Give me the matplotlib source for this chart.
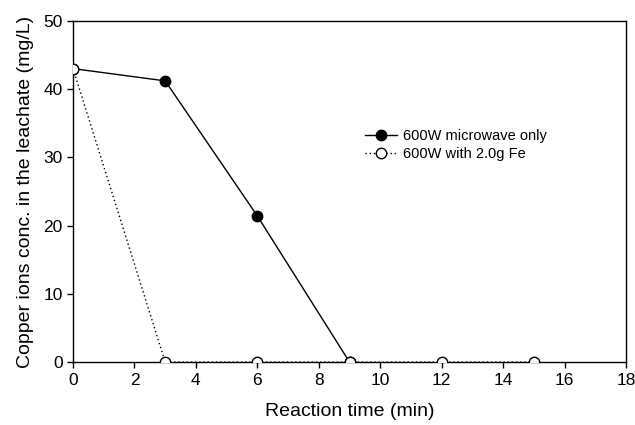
import matplotlib
matplotlib.use("Agg")
import matplotlib.pyplot as plt

# ── Data ──────────────────────────────────────────────────────────────────────
t_mw = [0, 3, 6, 9]
cu_mw = [43, 41.2, 21.4, 0]

t_fe = [0, 3, 6, 9, 12, 15]
cu_fe = [43, 0, 0, 0, 0, 0]

x_ticks = [0, 2, 4, 6, 8, 10, 12, 14, 16, 18]
y_ticks = [0, 10, 20, 30, 40, 50]

plt.rcParams["font.family"] = ["Liberation Sans", "DejaVu Sans"]

fig = plt.figure(figsize=(6.35, 4.25), dpi=100)
ax = fig.add_axes([0.115, 0.148, 0.871, 0.803])

ax.plot(t_mw, cu_mw, color="black", lw=1.0, marker="o", ms=7.5,
        mfc="black", mec="black", label="600W microwave only", zorder=2)
ax.plot(t_fe, cu_fe, color="black", lw=1.0, ls=(0, (1, 2)), marker="o", ms=7.5,
        mfc="white", mec="black", mew=1.0, label="600W with 2.0g Fe", zorder=3)

ax.set_xlim(0, 18)
ax.set_ylim(0, 50)
ax.set_xticks(x_ticks)
ax.set_yticks(y_ticks)
ax.tick_params(labelsize=12.5, length=4, width=1, direction="out")
for s in ax.spines.values():
    s.set_linewidth(1.0)

ax.set_xlabel("Reaction time (min)", fontsize=14, labelpad=11)
ax.set_ylabel("Copper ions conc. in the leachate (mg/L)", fontsize=14, labelpad=7)

ax.legend(loc="upper left", bbox_to_anchor=(0.518, 0.7), frameon=False,
          fontsize=10.5, handlelength=2.2, handletextpad=0.4, labelspacing=0.25,
          borderaxespad=0)

fig.savefig("out.png", dpi=100)
